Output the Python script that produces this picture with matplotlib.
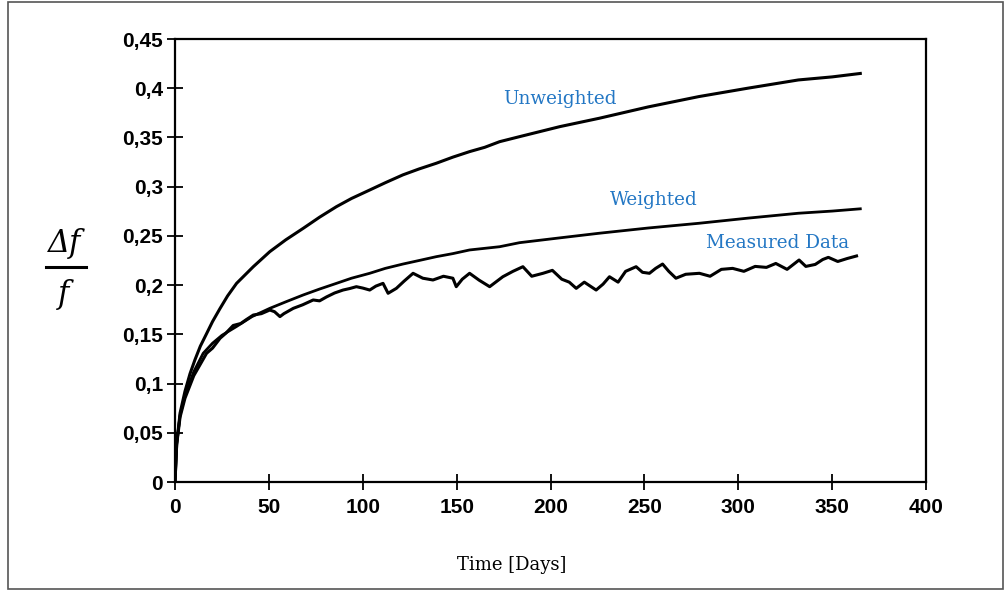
import matplotlib
matplotlib.use("Agg")
import matplotlib.pyplot as plt
from matplotlib.patches import Rectangle
from matplotlib.lines import Line2D
from matplotlib.ticker import FixedLocator, FixedFormatter

# ---- data ----
unw_days = [0, 0.9, 2.7, 5.3, 8, 10.6, 13.5, 16.9, 20, 23.9, 28, 32.8, 41.7, 50.5, 59,
            68.3, 77, 86, 94, 103.7, 112, 121.4, 130, 139.2, 148, 156.9, 165, 172.9,
            183.5, 205, 226, 252, 279, 305, 332, 350, 365]
unw_vals = [0, 0.039, 0.070, 0.092, 0.110, 0.124, 0.138, 0.151, 0.163, 0.176, 0.189,
            0.2018, 0.2187, 0.234, 0.246, 0.2577, 0.269, 0.2797, 0.288, 0.2966, 0.304,
            0.312, 0.318, 0.3238, 0.330, 0.3356, 0.340, 0.3457, 0.3508, 0.361, 0.3695,
            0.381, 0.3915, 0.400, 0.4084, 0.4115, 0.415]

w_days = [0, 0.9, 2.7, 5.3, 10, 15, 20, 25, 32.8, 41, 50.5, 59, 68.3, 77, 86, 94, 103.7,
          112, 121.4, 130, 139.2, 148, 156.9, 172.9, 183.5, 205, 226, 252, 279, 305, 332,
          350, 365]
w_vals = [0, 0.039, 0.068, 0.088, 0.112, 0.1307, 0.141, 0.149, 0.158, 0.168, 0.1764,
          0.183, 0.19, 0.196, 0.2018, 0.207, 0.212, 0.217, 0.2214, 0.225, 0.2289, 0.232,
          0.2357, 0.239, 0.2431, 0.248, 0.2527, 0.258, 0.2628, 0.268, 0.273, 0.2752, 0.2775]

m_days = [0, 0.9, 2.7, 5.3, 10, 13, 16.8, 20, 24, 27, 31, 35, 38, 41.7, 46, 50.5, 53,
          55.9, 58, 63, 68, 73.6, 77, 80.7, 85, 89.5, 93, 96.6, 100, 103.7, 107, 110.8,
          113.5, 117.9, 122, 126.8, 132, 137.4, 143, 148, 149.8, 153, 156.9, 162, 167.6,
          174.6, 180, 185.3, 190, 196, 201, 206, 210, 213.7, 218, 224.3, 228, 231.4, 236,
          240, 245.6, 249, 252.7, 256, 259.7, 263, 266.8, 272, 279.3, 285, 291, 297, 303,
          309, 315, 320, 326, 332.4, 336, 341, 345, 348, 353, 358, 363]
m_vals = [0, 0.038, 0.066, 0.085, 0.108, 0.118, 0.1307, 0.136, 0.146, 0.151, 0.159,
          0.161, 0.165, 0.1696, 0.171, 0.1747, 0.173, 0.168, 0.171, 0.1764, 0.180, 0.1849,
          0.184, 0.188, 0.192, 0.195, 0.1965, 0.1984, 0.197, 0.195, 0.199, 0.2018, 0.1917,
          0.1967, 0.204, 0.212, 0.207, 0.2052, 0.209, 0.207, 0.1984, 0.206, 0.212, 0.205,
          0.1984, 0.2085, 0.214, 0.2187, 0.209, 0.212, 0.215, 0.206, 0.203, 0.1967, 0.203,
          0.195, 0.201, 0.2085, 0.203, 0.214, 0.2187, 0.213, 0.212, 0.217, 0.2214, 0.214,
          0.207, 0.211, 0.212, 0.209, 0.216, 0.217, 0.214, 0.219, 0.218, 0.222, 0.216,
          0.2255, 0.219, 0.221, 0.226, 0.2282, 0.224, 0.227, 0.2296]

x_ticks = [0, 50, 100, 150, 200, 250, 300, 350, 400]
x_labels = ["0", "50", "100", "150", "200", "250", "300", "350", "400"]
y_ticks = [0, 0.05, 0.1, 0.15, 0.2, 0.25, 0.3, 0.35, 0.4, 0.45]
y_labels = ["0", "0,05", "0,1", "0,15", "0,2", "0,25", "0,3", "0,35", "0,4", "0,45"]

series_labels = ["Unweighted", "Weighted", "Measured Data"]
label_x = [205, 255, 321]
label_y = [0.389, 0.2865, 0.2428]

# ---- figure ----
fig = plt.figure(figsize=(10.05, 5.90), dpi=100)
ax = fig.add_axes([175 / 1005, 1 - 482 / 590, (926 - 175) / 1005, (482 - 39) / 590])

ax.plot(unw_days, unw_vals, color="black", lw=2.2)
ax.plot(w_days, w_vals, color="black", lw=2.0)
ax.plot(m_days, m_vals, color="black", lw=2.2)

ax.set_xlim(0, 400)
ax.set_ylim(0, 0.45)
ax.xaxis.set_major_locator(FixedLocator(x_ticks))
ax.xaxis.set_major_formatter(FixedFormatter(x_labels))
ax.yaxis.set_major_locator(FixedLocator(y_ticks))
ax.yaxis.set_major_formatter(FixedFormatter(y_labels))
ax.tick_params(direction="inout", length=11, width=1.3, labelsize=15)
ax.tick_params(axis="x", pad=6)
ax.tick_params(axis="y", pad=3)
for lab in ax.get_xticklabels() + ax.get_yticklabels():
    lab.set_fontfamily("Liberation Sans")
    lab.set_fontweight("bold")
for sp in ax.spines.values():
    sp.set_linewidth(1.6)

blue = "#2377C4"
for name, lx, ly in zip(series_labels, label_x, label_y):
    ax.text(lx, ly, name, color=blue, fontsize=13.2, family="DejaVu Serif",
            ha="center", va="center")

fig.text(512 / 1005, 1 - 565 / 590, "Time [Days]", family="DejaVu Serif", fontsize=13,
         ha="center", va="center")

# y-axis label as a stacked fraction  Δf / f
fig.text(65 / 1005, 1 - 243 / 590, "Δf", family="DejaVu Serif", style="italic",
         fontsize=22, ha="center", va="center")
fig.lines.append(Line2D([46 / 1005, 86 / 1005], [1 - 267 / 590, 1 - 267 / 590],
                        transform=fig.transFigure, color="black", lw=2.2))
fig.text(64 / 1005, 1 - 294 / 590, "f", family="DejaVu Serif", style="italic",
         fontsize=22, ha="center", va="center")

fig.patches.append(Rectangle((8 / 1005, 1 / 590), 995 / 1005, 587 / 590,
                             transform=fig.transFigure, fill=False,
                             edgecolor="#555555", lw=1.2))

fig.savefig("out.png", dpi=100)
